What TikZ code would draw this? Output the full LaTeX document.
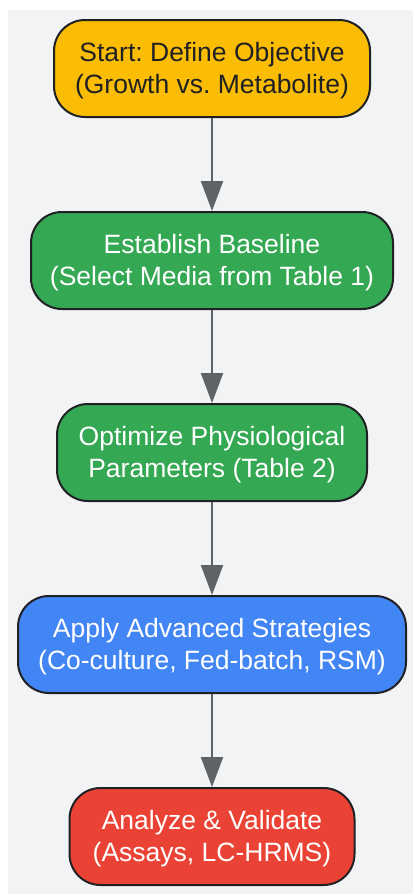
\documentclass[tikz,border=0pt]{standalone}
\usepackage{fontspec}
\setmainfont{Liberation Sans}
\usetikzlibrary{arrows.meta}
\frenchspacing
\definecolor{bggray}{HTML}{F1F3F4}
\definecolor{gyellow}{HTML}{FBBC04}
\definecolor{ggreen}{HTML}{34A853}
\definecolor{gblue}{HTML}{4285F4}
\definecolor{gred}{HTML}{EA4335}
\definecolor{garrow}{HTML}{5F6368}
\definecolor{gdark}{HTML}{202124}
\newcommand{\twolines}[2]{\raisebox{0pt}[25.2pt][38.8pt]{\begin{tabular}[t]{@{}c@{}}#1\\#2\end{tabular}}}
\tikzset{
  flowbox/.style={draw=gdark, line width=2pt, rounded corners=31pt, minimum height=97pt,
    inner sep=0pt, font=\fontsize{26.5}{32}\selectfont},
  flowarrow/.style={draw=garrow, line width=2pt, -{Triangle[width=22pt,length=30pt]}}
}
\begin{document}
\begin{tikzpicture}[x=1pt,y=-1pt]
\useasboundingbox (0,0) rectangle (413,894);
\fill[bggray] (8,10) rectangle (413,894);
\node[flowbox, fill=gyellow, text=gdark, minimum width=316pt] (n1) at (212,68.5) {\twolines{Start: Define Objective}{(Growth vs. Metabolite)}};
\node[flowbox, fill=ggreen, text=white, minimum width=362pt] (n2) at (212,260.5) {\twolines{Establish Baseline}{(Select Media from Table 1)}};
\node[flowbox, fill=ggreen, text=white, minimum width=310pt] (n3) at (212,452.5) {\twolines{Optimize Physiological}{Parameters (Table 2)}};
\node[flowbox, fill=gblue, text=white, minimum width=388pt] (n4) at (212,644.5) {\twolines{Apply Advanced Strategies}{(Co-culture, Fed-batch, RSM)}};
\node[flowbox, fill=gred, text=white, minimum width=285pt] (n5) at (212,836.5) {\twolines{Analyze \& Validate}{(Assays, LC-HRMS)}};
\draw[flowarrow] (n1) -- (n2);
\draw[flowarrow] (n2) -- (n3);
\draw[flowarrow] (n3) -- (n4);
\draw[flowarrow] (n4) -- (n5);
\end{tikzpicture}
\end{document}
